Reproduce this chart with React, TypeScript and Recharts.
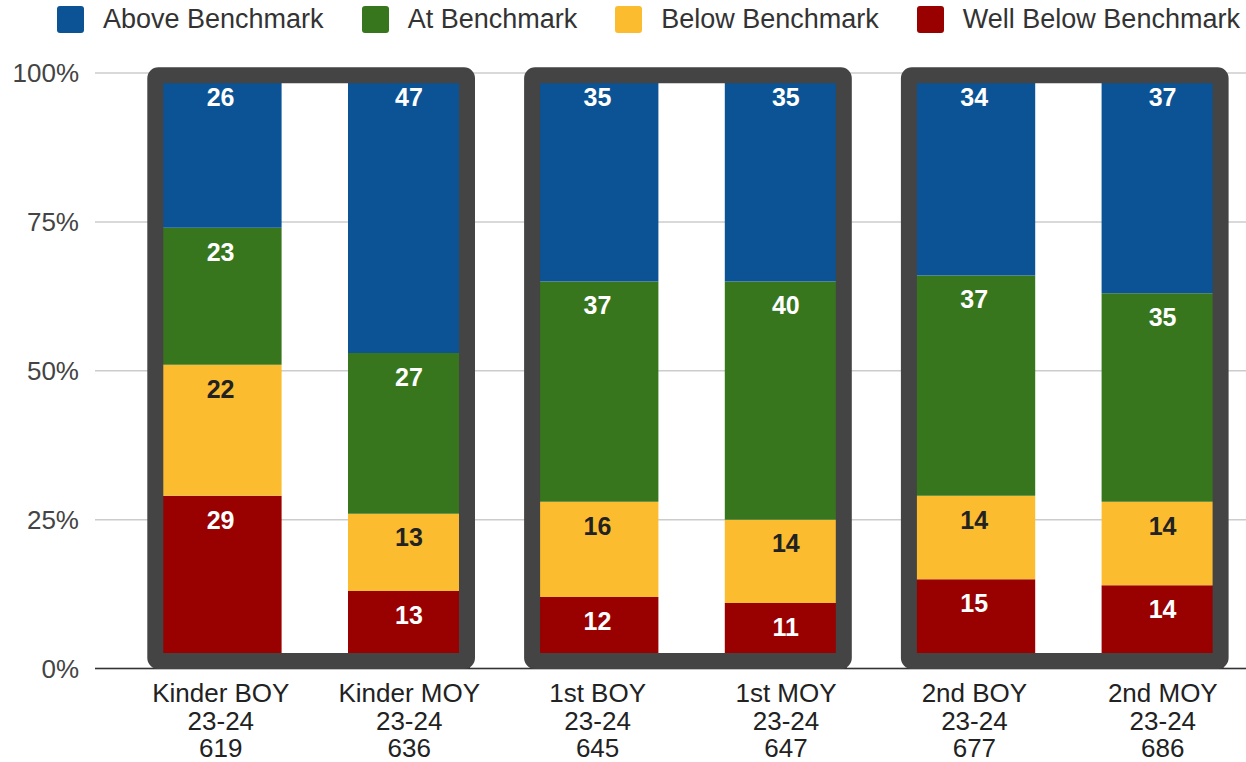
import React from "react";
import { BarChart, Bar, XAxis, YAxis, CartesianGrid, LabelList, ReferenceArea, Legend } from "recharts";

const categories = ["Kinder BOY", "Kinder MOY", "1st BOY", "1st MOY", "2nd BOY", "2nd MOY"];
const years = ["23-24", "23-24", "23-24", "23-24", "23-24", "23-24"];
const counts = [619, 636, 645, 647, 677, 686];

const above = [26, 47, 35, 35, 34, 37];
const atBench = [23, 27, 37, 40, 37, 35];
const below = [22, 13, 16, 14, 14, 14];
const wellBelow = [29, 13, 12, 11, 15, 14];

const yTicks = [0, 25, 50, 75, 100];

const framePairs: [string, string][] = [
  ["Kinder BOY", "Kinder MOY"],
  ["1st BOY", "1st MOY"],
  ["2nd BOY", "2nd MOY"],
];

const series = [
  { key: "above", name: "Above Benchmark", color: "#0b5394", label: "#ffffff" },
  { key: "at", name: "At Benchmark", color: "#38761d", label: "#ffffff" },
  { key: "below", name: "Below Benchmark", color: "#fbbc30", label: "#222222" },
  { key: "wellBelow", name: "Well Below Benchmark", color: "#990000", label: "#ffffff" },
];

const data = categories.map((name, i) => ({
  name,
  above: above[i],
  at: atBench[i],
  below: below[i],
  wellBelow: wellBelow[i],
}));

const FONT = "Arial, 'Liberation Sans', sans-serif";

const XTick = (props: any) => {
  const { x, y, payload, index } = props;
  return (
    <text x={x} y={y} textAnchor="middle" fill="#222" fontSize={26} fontFamily={FONT}>
      <tspan x={x} dy={33.5}>{payload.value}</tspan>
      <tspan x={x} dy={27.5}>{years[index]}</tspan>
      <tspan x={x} dy={27.5}>{counts[index]}</tspan>
    </text>
  );
};

const FrameShape = (props: any) => {
  const { x, y, width, height } = props;
  return (
    <rect
      x={x + 28.7}
      y={y + 2.3}
      width={width - 65.1}
      height={height - 9.8}
      rx={3}
      ry={3}
      fill="none"
      stroke="#444444"
      strokeWidth={16}
    />
  );
};

const LegendContent = () => (
  <div style={{ position: "relative", height: 0 }}>
    <div
      style={{
        position: "absolute",
        top: 4,
        left: 57,
        display: "flex",
        alignItems: "center",
        whiteSpace: "nowrap",
        fontFamily: FONT,
        fontSize: 27,
        color: "#333",
      }}
    >
      {series.map((s, i) => (
        <div key={s.key} style={{ display: "flex", alignItems: "center", marginRight: i < series.length - 1 ? 38 : 0 }}>
          <div style={{ width: 27, height: 27, background: s.color, borderRadius: 3, marginRight: 19 }} />
          <span>{s.name}</span>
        </div>
      ))}
    </div>
  </div>
);

const stackOrder = ["wellBelow", "below", "at", "above"];

export default function App() {
  return (
    <div
      style={{
        position: "absolute",
        left: 0,
        top: 0,
        width: 1246,
        height: 762,
        overflow: "hidden",
        background: "#fff",
        fontFamily: FONT,
      }}
    >
      <BarChart
        width={1257}
        height={762}
        data={data}
        margin={{ top: 73, right: 0, bottom: 13.5, left: 0 }}
        barCategoryGap={33}
      >
        <CartesianGrid vertical={false} stroke="#cccccc" strokeWidth={1.5} />
        <YAxis
          width={95}
          domain={[0, 100]}
          ticks={yTicks}
          tickFormatter={(v: number) => `${v}%`}
          axisLine={false}
          tickLine={false}
          tickSize={0}
          tickMargin={16}
          tick={{ fontSize: 26, fill: "#444", fontFamily: FONT }}
          interval={0}
        />
        <XAxis
          dataKey="name"
          height={80}
          padding={{ left: 31.6, right: 0 }}
          axisLine={{ stroke: "#333", strokeWidth: 1.5 }}
          tickLine={false}
          tickSize={0}
          tickMargin={0}
          tick={<XTick />}
          interval={0}
        />
        <Legend verticalAlign="top" content={<LegendContent />} wrapperStyle={{ top: 0, left: 0 }} />
        {stackOrder.map((k) => {
          const s = series.find((ss) => ss.key === k)!;
          return (
            <Bar key={k} dataKey={k} name={s.name} stackId="a" fill={s.color} isAnimationActive={false}>
              <LabelList
                dataKey={k}
                position="insideTop"
                offset={15}
                fill={s.label}
                fontSize={25}
                fontWeight="bold"
                fontFamily={FONT}
              />
            </Bar>
          );
        })}
        {framePairs.map(([a, b]) => (
          <ReferenceArea
            key={a}
            x1={a}
            x2={b}
            y1={0}
            y2={100}
            shape={<FrameShape />}
            ifOverflow="visible"
            {...({ zIndex: 1500 } as any)}
          />
        ))}
      </BarChart>
    </div>
  );
}
